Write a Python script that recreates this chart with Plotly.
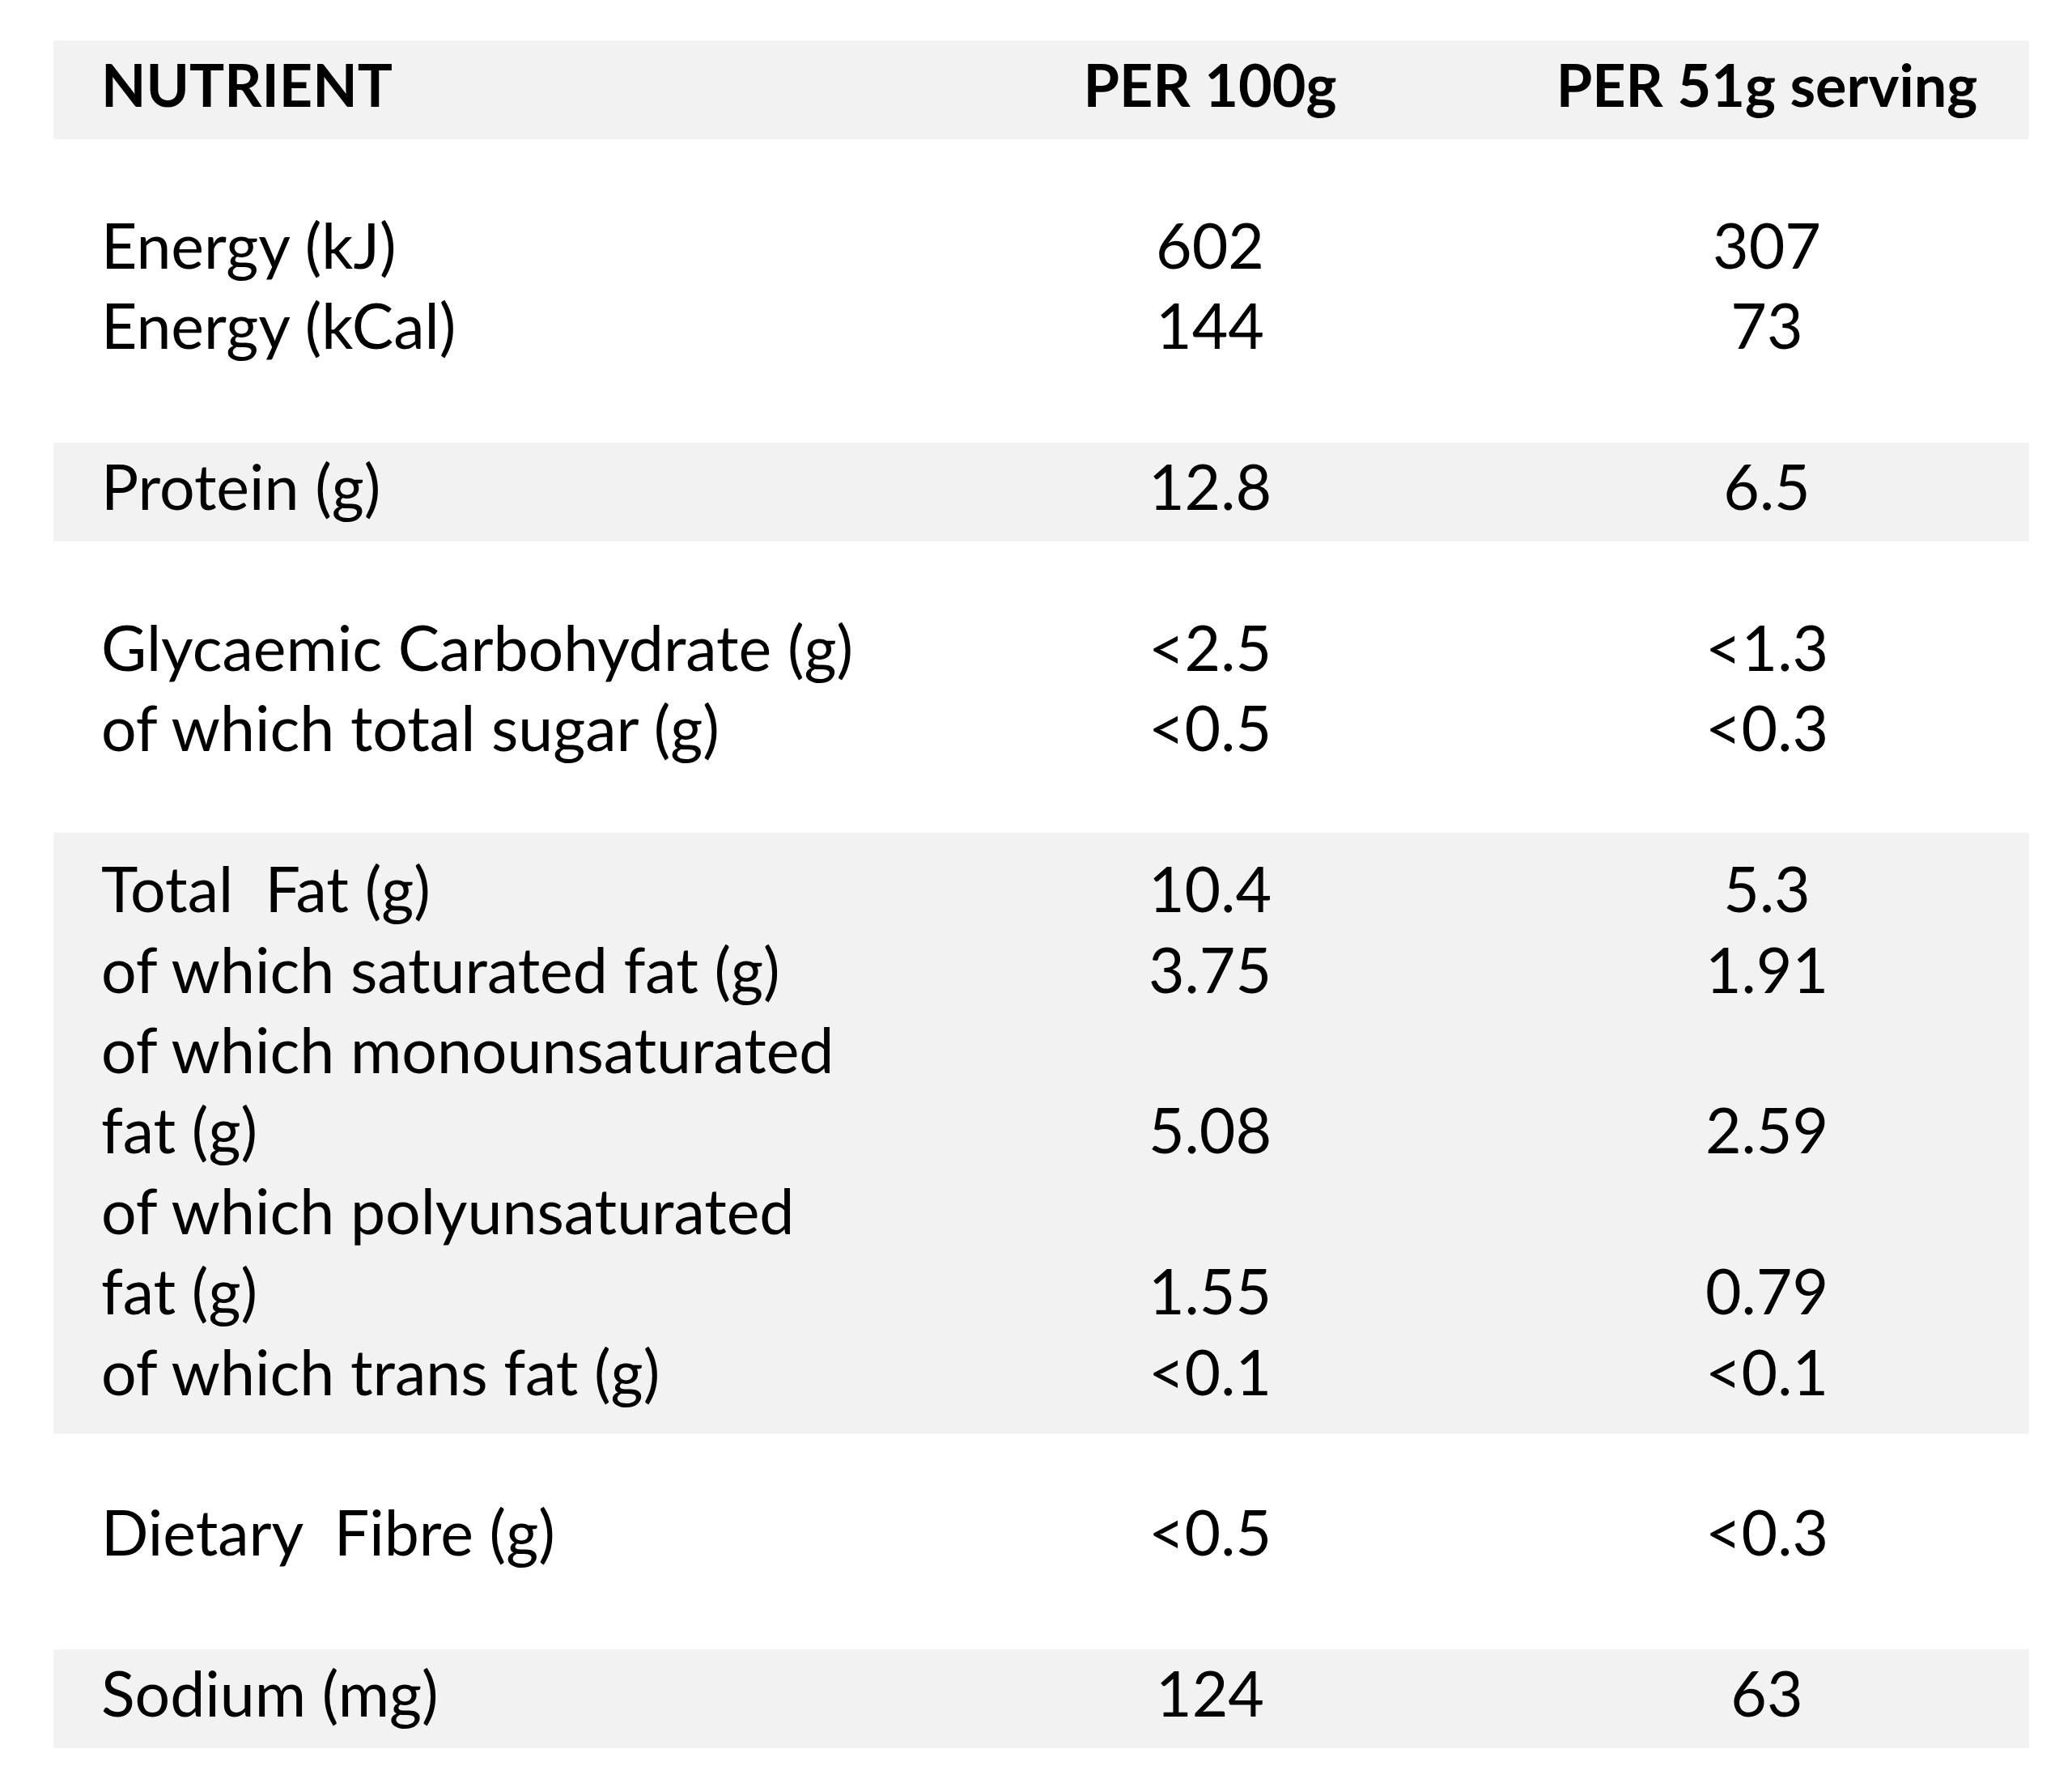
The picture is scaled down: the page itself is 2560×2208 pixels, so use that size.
import plotly.graph_objects as go

# ---------------- data ----------------
header = ["NUTRIENT", "PER 100g", "PER 51g serving"]
nutrients = [
    "Energy (kJ)",
    "Energy (kCal)",
    "Protein (g)",
    "Glycaemic Carbohydrate (g)",
    "of which total sugar (g)",
    "Total\u00a0 Fat (g)",
    "of which saturated fat (g)",
    "of which monounsaturated<br>fat (g)",
    "of which polyunsaturated<br>fat (g)",
    "of which trans fat (g)",
    "Dietary\u00a0 Fibre (g)",
    "Sodium (mg)",
]
per_100g = ["602", "144", "12.8", "<2.5", "<0.5", "10.4", "3.75", "5.08", "1.55", "<0.1", "<0.5", "124"]
per_51g = ["307", "73", "6.5", "<1.3", "<0.3", "5.3", "1.91", "2.59", "0.79", "<0.1", "<0.3", "63"]
group_of = [0, 0, 1, 2, 2, 3, 3, 3, 3, 3, 4, 5]
shaded_groups = [1, 3, 5]

# ---------------- layout computation ----------------
PAGE_W, PAGE_H = 2560, 2208
BODY = 8                      # default page margin around the plot div
W, H = PAGE_W - 2 * BODY, PAGE_H - 2 * BODY
LINE = 99.4
TOP = 108
DY = 6                        # text baseline correction
X_LABEL = 125
X_C1 = 1495
X_C2 = 2183
BAND_X0, BAND_X1 = 66, 2507
GREY = "#f2f2f2"
FONT = "Lato"
FSIZE = 77
HSIZE = 72


def ypos(slot):
    return TOP + LINE * (slot - 1)


label_x, label_y, label_t = [], [], []
val_y, v1, v2 = [], [], []
group_slots = {}
slot = 1
prev_group = None
for i, lab in enumerate(nutrients):
    g = group_of[i]
    if g != prev_group:
        slot += 1  # blank line between groups
        prev_group = g
    lines = lab.split("<br>")
    for ln in lines:
        slot += 1
        label_x.append(X_LABEL)
        label_y.append(ypos(slot) + DY)
        label_t.append(ln)
        group_slots.setdefault(g, []).append(slot)
    val_y.append(ypos(slot) + DY)
    v1.append(per_100g[i])
    v2.append(per_51g[i])

shapes = []
shapes.append(dict(type="rect", xref="x", yref="y", x0=BAND_X0, x1=BAND_X1,
                   y0=ypos(1) - 58, y1=ypos(1) + 64, fillcolor=GREY, line_width=0, layer="below"))
for g in shaded_groups:
    s = group_slots[g]
    if len(s) == 1:
        y0, y1 = ypos(s[0]) - 58, ypos(s[0]) + 64
    else:
        y0, y1 = ypos(min(s)) - 73, ypos(max(s)) + 73
    shapes.append(dict(type="rect", xref="x", yref="y", x0=BAND_X0, x1=BAND_X1,
                       y0=y0, y1=y1, fillcolor=GREY, line_width=0, layer="below"))

fig = go.Figure()
fig.add_trace(go.Scatter(x=[X_LABEL], y=[ypos(1) + DY], text=[header[0]], mode="text",
                         textposition="middle right",
                         textfont=dict(family=FONT, size=HSIZE, color="#000", weight="bold")))
fig.add_trace(go.Scatter(x=[X_C1, X_C2], y=[ypos(1) + DY] * 2, text=header[1:], mode="text",
                         textposition="middle center",
                         textfont=dict(family=FONT, size=HSIZE, color="#000", weight="bold")))
fig.add_trace(go.Scatter(x=label_x, y=label_y, text=label_t, mode="text",
                         textposition="middle right",
                         textfont=dict(family=FONT, size=FSIZE, color="#000")))
fig.add_trace(go.Scatter(x=[X_C1] * len(v1), y=val_y, text=v1, mode="text",
                         textposition="middle center",
                         textfont=dict(family=FONT, size=FSIZE, color="#000")))
fig.add_trace(go.Scatter(x=[X_C2] * len(v2), y=val_y, text=v2, mode="text",
                         textposition="middle center",
                         textfont=dict(family=FONT, size=FSIZE, color="#000")))

fig.update_layout(
    width=W, height=H,
    margin=dict(l=0, r=0, t=0, b=0),
    paper_bgcolor="white", plot_bgcolor="white",
    showlegend=False, hovermode=False,
    shapes=shapes,
    # axis ranges expressed in page pixels (the plot div sits BODY px from the page edge)
    xaxis=dict(range=[BODY, BODY + W], visible=False, fixedrange=True),
    yaxis=dict(range=[BODY + H, BODY], visible=False, fixedrange=True),
)

fig.write_html("out.html")
